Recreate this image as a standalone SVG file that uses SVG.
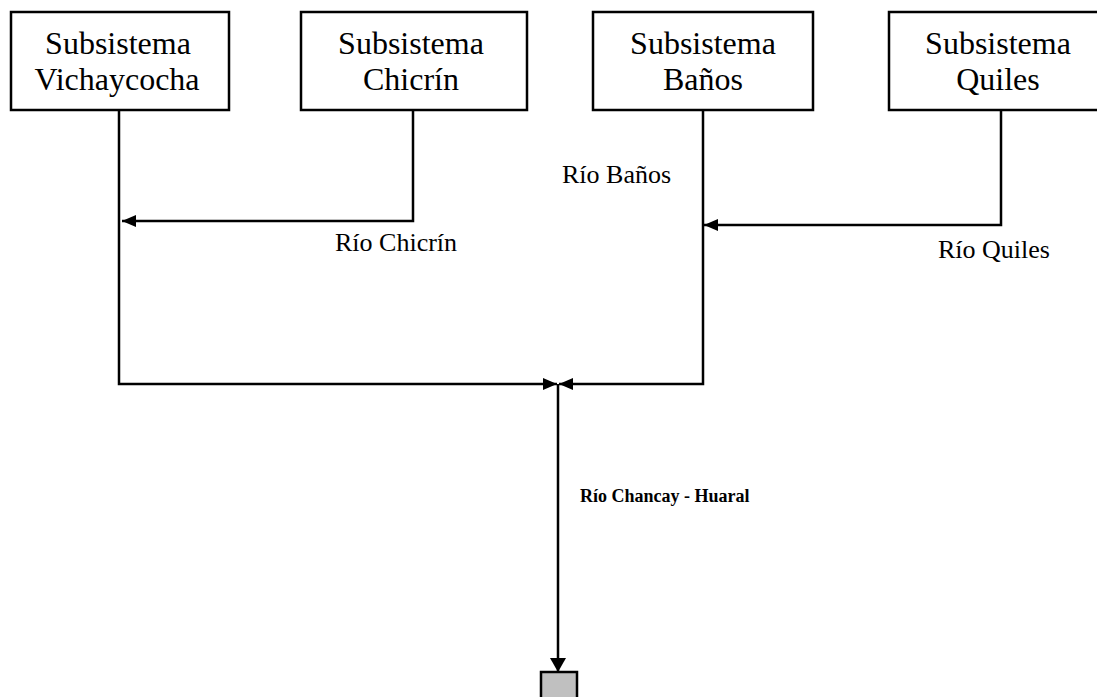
<svg xmlns="http://www.w3.org/2000/svg" width="1097" height="697" viewBox="0 0 1097 697">
  <style>
    .box { fill: #ffffff; stroke: #000000; stroke-width: 2.5; }
    .sink { fill: #c0c0c0; stroke: #000000; stroke-width: 2.5; }
    .name { font-family: "Liberation Serif", "Times New Roman", serif; font-size: 32px; fill: #000000; text-anchor: middle; }
    .river { font-family: "Liberation Serif", "Times New Roman", serif; font-size: 26px; fill: #000000; }
    .main { font-family: "Liberation Serif", "Times New Roman", serif; font-size: 18px; font-weight: bold; fill: #000000; }
    .edge { fill: none; stroke: #000000; stroke-width: 2.5; }
  </style>
  <defs>
    <marker id="arrow" viewBox="0 0 14 12" refX="14" refY="6" markerWidth="14" markerHeight="12" markerUnits="userSpaceOnUse" orient="auto">
      <path d="M0,0 L14,6 L0,12 Z" fill="#000000"/>
    </marker>
    <marker id="arrowBig" viewBox="0 0 14 16" refX="14" refY="8" markerWidth="14" markerHeight="16" markerUnits="userSpaceOnUse" orient="auto">
      <path d="M0,0 L14,8 L0,16 Z" fill="#000000"/>
    </marker>
  </defs>

  <g id="vichaycocha">
    <rect class="box" x="11" y="12" width="218" height="98"/>
    <text class="name" x="118" y="54">Subsistema</text>
    <text class="name" x="117" y="90">Vichaycocha</text>
  </g>

  <g id="chicrin">
    <rect class="box" x="301" y="12" width="226" height="98"/>
    <text class="name" x="411" y="54">Subsistema</text>
    <text class="name" x="411" y="90">Chicrín</text>
  </g>

  <g id="banos">
    <rect class="box" x="593" y="12" width="220" height="98"/>
    <text class="name" x="703" y="54">Subsistema</text>
    <text class="name" x="703" y="90">Baños</text>
  </g>

  <g id="quiles">
    <rect class="box" x="889" y="12" width="220" height="98"/>
    <text class="name" x="998" y="54">Subsistema</text>
    <text class="name" x="998" y="90">Quiles</text>
  </g>

  <g id="outlet">
    <rect class="sink" x="541" y="672" width="36" height="40"/>
  </g>

  <g id="connectors">
    <!-- Río Chicrín joins the Vichaycocha branch -->
    <polyline class="edge" points="413,110 413,221 122,221" marker-end="url(#arrow)"/>
    <!-- Río Quiles joins the Baños branch -->
    <polyline class="edge" points="1001,110 1001,225 704,225" marker-end="url(#arrow)"/>
    <!-- both branches meet at the confluence -->
    <polyline class="edge" points="119,110 119,384 557,384" marker-end="url(#arrow)"/>
    <polyline class="edge" points="703,110 703,384 559,384" marker-end="url(#arrow)"/>
    <!-- Río Chancay - Huaral down to the outlet -->
    <line class="edge" x1="558" y1="384" x2="558" y2="672" marker-end="url(#arrowBig)"/>
  </g>

  <g id="labels">
    <text class="river" x="335" y="251">Río Chicrín</text>
    <text class="river" x="562" y="183">Río Baños</text>
    <text class="river" x="938" y="258">Río Quiles</text>
    <text class="main" x="580" y="502">Río Chancay - Huaral</text>
  </g>
</svg>
